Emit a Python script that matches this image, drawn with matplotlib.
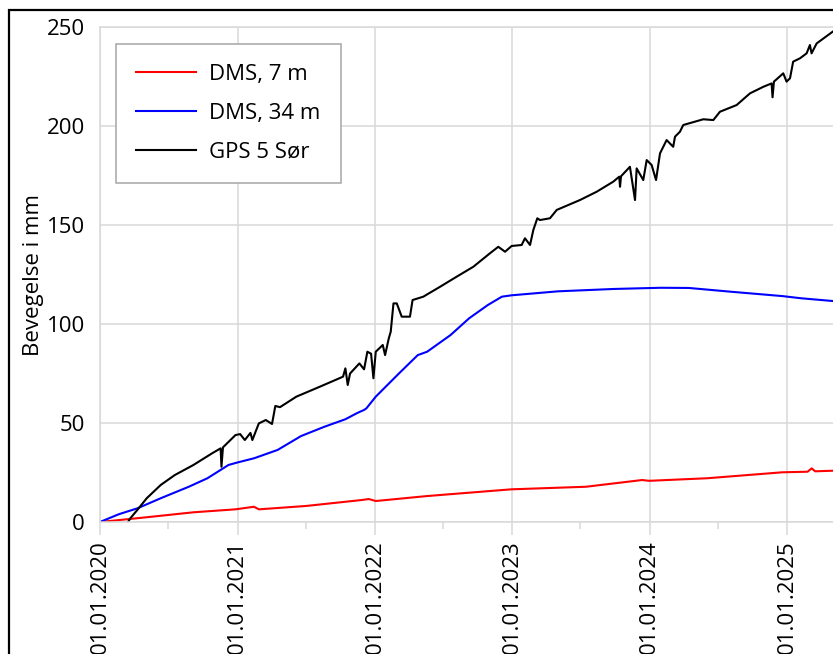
import numpy as np
import pandas as pd
import matplotlib
matplotlib.use("Agg")
import matplotlib.pyplot as plt
import matplotlib.dates as mdates
from matplotlib.patches import Rectangle

# years after 01.01.2020, movement in mm
dms7_t = [0.0, 0.34, 0.68, 0.986, 1.12, 1.157, 1.50, 1.905, 1.956, 2.007,
          2.38, 2.993, 3.537, 3.946, 3.997, 4.42, 4.966, 5.150, 5.180,
          5.205, 5.335]
dms7_v = [0.0, 2.4, 4.9, 6.4, 7.7, 6.4, 8.1, 11.1, 11.6, 10.6,
          13.1, 16.5, 17.8, 21.2, 20.8, 22.1, 25.1, 25.4, 27.1,
          25.6, 25.9]

dms34_t = [0.0, 0.136, 0.272, 0.442, 0.646, 0.782, 0.935, 0.997, 1.122,
           1.293, 1.463, 1.633, 1.786, 1.871, 1.922, 1.939, 2.007, 2.177,
           2.313, 2.381, 2.551, 2.687, 2.823, 2.925, 2.997, 3.333, 3.741,
           4.082, 4.286, 4.592, 4.966, 5.102, 5.335]
dms34_v = [0.0, 3.9, 6.9, 12.0, 17.8, 22.1, 28.8, 30.0, 32.2,
           36.4, 43.4, 48.1, 51.9, 55.0, 56.6, 57.4, 63.3, 75.1,
           84.3, 86.0, 94.4, 102.9, 109.6, 113.8, 114.5, 116.5, 117.7,
           118.3, 118.2, 116.3, 114.1, 113.0, 111.6]

gps_t = [0.187, 0.221, 0.272, 0.340, 0.442, 0.544, 0.680, 0.816, 0.878,
         0.884, 0.895, 0.986, 1.020, 1.054, 1.095, 1.109, 1.156, 1.207,
         1.252, 1.276, 1.310, 1.429, 1.599, 1.769, 1.786, 1.803, 1.820,
         1.888, 1.922, 1.946, 1.973, 1.990, 2.007, 2.058, 2.075, 2.102,
         2.116, 2.136, 2.160, 2.196, 2.256, 2.275, 2.353, 2.475, 2.596,
         2.717, 2.838, 2.899, 2.948, 2.996, 3.069, 3.093, 3.130, 3.154,
         3.183, 3.202, 3.275, 3.324, 3.493, 3.615, 3.736, 3.779, 3.785,
         3.792, 3.857, 3.894, 3.906, 3.954, 3.979, 4.015, 4.047, 4.076,
         4.124, 4.172, 4.185, 4.221, 4.245, 4.391, 4.464, 4.512, 4.634,
         4.731, 4.828, 4.888, 4.895, 4.905, 4.973, 4.997, 5.022, 5.045,
         5.095, 5.143, 5.167, 5.179, 5.216, 5.332]
gps_v = [-2.0, 1.9, 6.1, 12.0, 18.7, 23.7, 28.8, 34.7, 37.2,
         27.9, 37.7, 43.9, 44.4, 41.4, 45.0, 41.4, 49.8, 51.5,
         49.5, 58.6, 58.0, 63.3, 68.3, 73.4, 77.6, 69.2, 75.0,
         80.1, 77.1, 86.0, 85.0, 72.6, 86.0, 89.4, 84.3, 92.8,
         96.1, 110.4, 110.4, 103.7, 103.7, 112.1, 113.8, 118.8, 123.9,
         128.9, 135.7, 139.0, 136.5, 139.4, 139.9, 143.3, 139.9, 147.5,
         153.4, 152.5, 153.4, 157.6, 162.6, 166.8, 171.9, 174.4, 169.3,
         174.6, 179.4, 162.6, 178.6, 172.7, 182.8, 180.3, 172.7, 186.2,
         192.9, 189.5, 194.6, 197.1, 200.5, 203.4, 203.0, 207.2, 210.6,
         216.5, 219.8, 221.5, 214.5, 222.4, 226.6, 222.4, 224.1, 232.5,
         234.2, 236.7, 240.9, 236.7, 241.7, 247.6]

labels = ["DMS, 7 m", "DMS, 34 m", "GPS 5 Sør"]
y_ticks = [0, 50, 100, 150, 200, 250]

start = pd.Timestamp("2020-01-01")


def to_dates(years):
    return [start + pd.Timedelta(days=y * 365.25) for y in years]


plt.rcParams["font.family"] = ["Open Sans", "DejaVu Sans"]
grid_col = "#d9d9d9"
fs = 16

fig = plt.figure(figsize=(8.33, 6.54), dpi=100)
ax = fig.add_axes([100 / 833, 132 / 654, 733 / 833, 495 / 654])

ax.plot(to_dates(dms7_t), dms7_v, color="#ff0000", lw=1.5, label=labels[0])
ax.plot(to_dates(dms34_t), dms34_v, color="#0000ff", lw=1.5, label=labels[1])
ax.plot(to_dates(gps_t), gps_v, color="black", lw=1.5, label=labels[2])

ax.set_xlim(start, start + pd.Timedelta(days=5.335 * 365.25))
ax.set_ylim(0, 250)
ax.set_yticks(y_ticks)

ax.xaxis.set_major_locator(mdates.YearLocator())
ax.xaxis.set_minor_locator(mdates.MonthLocator(bymonth=7))
ax.xaxis.set_major_formatter(mdates.DateFormatter("%d.%m.%Y"))
plt.setp(ax.get_xticklabels(), rotation=90)

ax.grid(True, which="major", color=grid_col, lw=1.1)
ax.set_axisbelow(True)
ax.tick_params(axis="x", which="major", length=9, width=1.1, color=grid_col,
               labelsize=fs, pad=4)
ax.tick_params(axis="x", which="minor", length=5, width=1.1, color=grid_col)
ax.tick_params(axis="y", length=0, labelsize=fs, pad=11)
for side in ["left", "bottom", "top"]:
    ax.spines[side].set_color(grid_col)
    ax.spines[side].set_linewidth(1.1)
ax.spines["right"].set_visible(False)

ax.set_ylabel("Bevegelse i mm", fontsize=fs, labelpad=2)

leg = ax.legend(loc="upper left", bbox_to_anchor=(16 / 733, 1 - 17 / 495),
                fontsize=fs, fancybox=False, framealpha=1,
                edgecolor="#a6a6a6", handlelength=2.7, handletextpad=0.6,
                borderpad=0.9, labelspacing=0.8, borderaxespad=0)
leg.get_frame().set_linewidth(1.1)

fig.add_artist(Rectangle((9 / 833, -0.05), 1.0, 1.05 - 10 / 654,
                         transform=fig.transFigure, fill=False,
                         edgecolor="black", lw=1.6, clip_on=False))

fig.savefig("out.png", dpi=100)
